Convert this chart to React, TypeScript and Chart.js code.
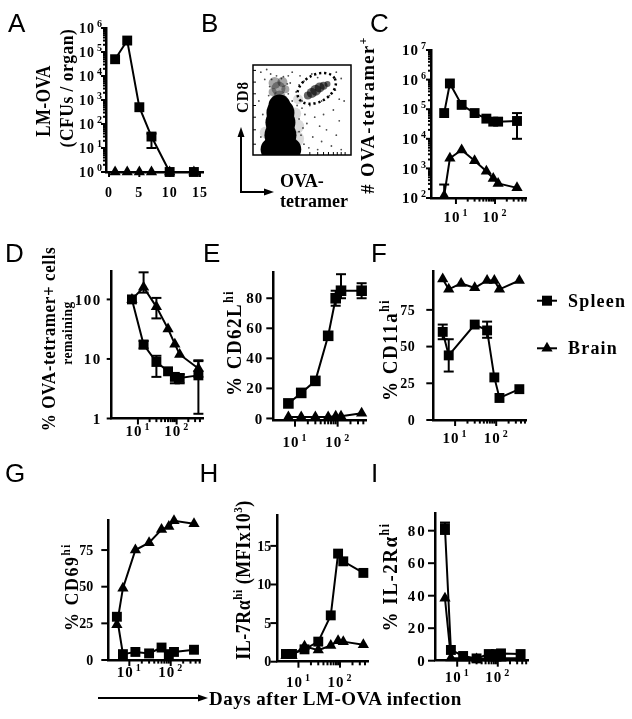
import React, { useEffect, useRef } from 'react';
import { Chart, registerables } from 'chart.js';

Chart.register(...registerables);

const SERIF = '"Liberation Serif", "Times New Roman", serif';
const SANS = '"Liberation Sans", Arial, sans-serif';

/* ================= DATA ================= */
// Panel A – bacterial load (linear days)
const daysA = [1, 3, 5, 7, 10, 14];
const spleenA = [50000, 300000, 500, 30, 1, 1];
const brainA = [1, 1, 1, 1, 1, 1];
const spleenAErr = [null, null, null, [10, 40], null, null];
const aXTicks = [0, 5, 10, 15];
const aXLabels = ['0', '5', '10', '15'];
const aYTicks = [1, 10, 100, 1000, 10000, 100000, 1000000];
const aYExp = ['0', '1', '2', '3', '4', '5', '6'];

// Days used in the time-course panels
const daysAll = [5, 7, 14, 30, 60, 90, 120, 365];
const daysFrom7 = [7, 14, 30, 60, 90, 120, 365];
const daysF = [5, 7, 30, 60, 90, 120, 365];
const logXTicks = [10, 100];
const logXExp = ['1', '2'];

// Panel C – # OVA-tetramer+
const spleenC = [74000, 740000, 140000, 74000, 48000, 38000, 38000, 40000];
const brainC = [120, 2200, 4200, 1800, 800, 460, 310, 220];
const spleenCErr = [null, null, null, null, null, null, null, [10000, 74000]];
const brainCErr = [[100, 285], null, null, null, null, null, null, null];
const cYTicks = [100, 1000, 10000, 100000, 1000000, 10000000];
const cYExp = ['2', '3', '4', '5', '6', '7'];

// Panel D – % remaining
const spleenD = [100, 17.5, 8.9, 6.2, 5.0, 4.8, 5.3];
const brainD = [100, 160, 75, 32, 17.7, 11.9, 6.9];
const spleenDErr = [null, [15, 20], [5, 11.3], null, [3.9, 5.5], [3.9, 5.5], [1.2, 9.2]];
const brainDErr = [null, [130, 285], [48, 106], null, null, null, [5, 9.5]];
const dYTicks = [1, 10, 100];
const dYLabels = ['1', '10', '100'];

// Panel E – % CD62L hi
const spleenE = [10, 17, 25, 55, 80, 85, 85];
const brainE = [1, 1, 1, 1, 1.5, 1.5, 3.5];
const spleenEErr = [null, null, null, null, [75, 85], [80, 96], [80, 90]];
const eYTicks = [0, 20, 40, 60, 80];

// Panel F – % CD11a hi
const spleenF = [60, 44, 65, 61, 29, 15, 21];
const brainF = [96, 89, 93, 90, 95, 95, 89, 95];
const spleenFErr = [[55, 65], [33, 55], null, [56, 67], null, null, null];
const fYTicks = [0, 25, 50, 75];

// Panel G – % CD69 hi
const spleenG = [29.5, 4, 5.5, 4.5, 8.5, 4, 5.5, 7];
const brainG = [24, 49, 75, 80, 89, 91, 95, 93];
const gYTicks = [0, 25, 50, 75];

// Panel H – IL-7Ra MFI (x10^3)
const spleenH = [1, 1, 1.6, 2.6, 6, 14, 13, 11.5];
const brainH = [0.8, 0.8, 2.0, 1.5, 2.1, 2.7, 2.6, 2.2];
const hYTicks = [0, 5, 10, 15];

// Panel I – % IL-2Ra hi
const spleenI = [81.5, 6.6, 2.9, 1.4, 4.1, 4.1, 4.5, 4.1];
const brainI = [38.4, 1.7, 1.5, 1, 1.5, 1.5, 1.5, 1.5];
const spleenIErr = [[78, 85], null, null, null, null, null, null, null];
const iYTicks = [0, 20, 40, 60, 80];

const legendLabels = ['Spleen', 'Brain'];

// Panel B – flow cytometry plot (arbitrary 0-100 units)
const bMainBlobs = [
  { x: 28, y: 8, r: 17 }, { x: 20, y: 6, r: 12 }, { x: 37, y: 6, r: 12 },
  { x: 28, y: 22, r: 16 }, { x: 28, y: 36, r: 15 }, { x: 28, y: 47, r: 14 }, { x: 27, y: 55, r: 11 },
];
const bHaloBlobs = [
  { x: 44, y: 18, r: 8 }, { x: 45, y: 32, r: 7 }, { x: 43, y: 46, r: 6 }, { x: 13, y: 25, r: 6 },
  { x: 46, y: 62, r: 5 },
];
const bCD8Blobs = [
  { x: 22, y: 80, r: 6 }, { x: 30, y: 81, r: 5 }, { x: 26, y: 74, r: 7 },
  { x: 33, y: 73, r: 4 }, { x: 20, y: 70, r: 4 }, { x: 27, y: 65, r: 6 },
];
const bTetBlobs = [
  { x: 56, y: 66, r: 4 }, { x: 60, y: 69, r: 5 }, { x: 64, y: 72, r: 5.5 },
  { x: 68, y: 75, r: 5 }, { x: 72, y: 77, r: 4 }, { x: 76, y: 79, r: 3 },
];
const bDots = [
  { x: 48, y: 5 }, { x: 52, y: 12 }, { x: 57, y: 8 }, { x: 61, y: 20 }, { x: 66, y: 6 },
  { x: 70, y: 15 }, { x: 75, y: 28 }, { x: 80, y: 10 }, { x: 85, y: 22 }, { x: 90, y: 6 },
  { x: 55, y: 35 }, { x: 63, y: 42 }, { x: 72, y: 45 }, { x: 82, y: 50 }, { x: 50, y: 52 },
  { x: 58, y: 55 }, { x: 88, y: 38 }, { x: 93, y: 60 }, { x: 47, y: 26 }, { x: 68, y: 32 },
  { x: 8, y: 92 }, { x: 14, y: 95 }, { x: 40, y: 92 }, { x: 48, y: 88 }, { x: 85, y: 92 },
  { x: 90, y: 85 }, { x: 6, y: 60 }, { x: 10, y: 45 }, { x: 8, y: 20 }, { x: 44, y: 70 },
  { x: 47, y: 78 }, { x: 84, y: 72 }, { x: 88, y: 62 }, { x: 52, y: 82 }, { x: 40, y: 60 },
  { x: 36, y: 88 }, { x: 60, y: 90 }, { x: 78, y: 66 }, { x: 70, y: 60 }, { x: 66, y: 86 },
  { x: 46, y: 12 }, { x: 49, y: 22 }, { x: 51, y: 30 }, { x: 47, y: 40 }, { x: 53, y: 45 },
  { x: 50, y: 60 }, { x: 45, y: 55 }, { x: 18, y: 90 }, { x: 12, y: 84 }, { x: 38, y: 80 },
  { x: 17, y: 76 }, { x: 19, y: 84 }, { x: 24, y: 88 }, { x: 31, y: 87 }, { x: 35, y: 79 },
  { x: 36, y: 68 }, { x: 16, y: 66 }, { x: 21, y: 62 }, { x: 33, y: 63 }, { x: 29, y: 85 },
];
const bGate = { x: 65, y: 74, a: 21, b: 15, rot: -0.5 };
const bTickX = [18, 42, 58, 66, 72, 77, 82, 86, 90, 94];
const bTickY = [12, 28, 42, 55, 68, 81, 94];

/* ================= TYPES / HELPERS ================= */
interface Lab { v: number; t: string; s?: string }
interface Ax {
  type: 'linear' | 'logarithmic'; min: number; max: number;
  majors: number[]; minors: number[]; labels: Lab[];
  fs: number; off: number; tick: number; ls: number;
}
interface Ser { x: number[]; y: number[]; err?: (number[] | null)[]; style: string; r: number }
interface Panel { area: number[]; box: number[]; x: Ax; y: Ax; series: Ser[]; legend?: boolean }

const lab = (vals: number[], texts: string[]): Lab[] => vals.map((v, i) => ({ v, t: texts[i] }));
const tenExp = (vals: number[], exps: string[]): Lab[] => vals.map((v, i) => ({ v, t: '10', s: exps[i] }));
function logMinors(min: number, max: number, from: number): number[] {
  const out: number[] = [];
  for (let d = from; d <= max; d *= 10) {
    for (let k = 2; k <= 9; k++) {
      const v = k * d;
      if (v >= min && v <= max) out.push(v);
    }
  }
  return out;
}
function logX(min: number, max: number, off: number): Ax {
  return {
    type: 'logarithmic', min, max, majors: logXTicks, minors: logMinors(min, max, 10),
    labels: tenExp(logXTicks, logXExp), fs: 15, off, tick: 6, ls: 1,
  };
}
function linY(min: number, max: number, ticks: number[], off: number, fs = 15, ls = 1): Ax {
  return { type: 'linear', min, max, majors: ticks, minors: [], labels: lab(ticks, ticks.map(String)), fs, off, tick: 7, ls };
}
function mkPanel(area: number[], x: Ax, y: Ax, series: Ser[], legend = false): Panel {
  const left = Math.floor(area[0] - 50);
  const top = Math.floor(area[1] - 16);
  const right = legend ? 632 : Math.ceil(area[2] + 18);
  const bottom = Math.ceil(area[3] + 36);
  return { area, box: [left, top, right - left, bottom - top], x, y, series, legend };
}

/* ================= PANELS ================= */
const panels: Panel[] = [
  mkPanel([106, 28, 203, 172],
    { type: 'linear', min: -0.5, max: 15.5, majors: aXTicks, minors: [], labels: lab(aXTicks, aXLabels), fs: 14, off: 25, tick: 5, ls: 1 },
    { type: 'logarithmic', min: 1, max: 1000000, majors: aYTicks, minors: logMinors(1, 1000000, 1), labels: tenExp(aYTicks, aYExp), fs: 14, off: 3, tick: 5, ls: 1 },
    [{ x: daysA, y: spleenA, err: spleenAErr, style: 'rect', r: 7 }, { x: daysA, y: brainA, style: 'triangle', r: 6.5 }]),
  mkPanel([431, 50, 526, 198],
    logX(2.3, 620, 24),
    { type: 'logarithmic', min: 100, max: 10000000, majors: cYTicks, minors: logMinors(100, 10000000, 100), labels: tenExp(cYTicks, cYExp), fs: 15, off: 4, tick: 5, ls: 1 },
    [{ x: daysAll, y: spleenC, err: spleenCErr, style: 'rect', r: 7 }, { x: daysAll, y: brainC, err: brainCErr, style: 'triangle', r: 6.5 }]),
  mkPanel([111.7, 271, 203, 418.5],
    logX(2.1, 480, 17.5),
    { type: 'logarithmic', min: 1, max: 300, majors: dYTicks, minors: [], labels: lab(dYTicks, dYLabels), fs: 15, off: 10, tick: 5, ls: 1.5 },
    [{ x: daysFrom7, y: spleenD, err: spleenDErr, style: 'rect', r: 7 }, { x: daysFrom7, y: brainD, err: brainDErr, style: 'triangle', r: 6.5 }]),
  mkPanel([273.3, 272.7, 366.7, 420.7],
    logX(3.1, 480, 26),
    linY(-1.5, 97, eYTicks, 10),
    [{ x: daysFrom7, y: spleenE, err: spleenEErr, style: 'rect', r: 7.5 }, { x: daysFrom7, y: brainE, style: 'triangle', r: 6.5 }]),
  mkPanel([433.3, 271.7, 526, 420],
    logX(2.95, 530, 23),
    linY(0, 101, fYTicks, 18, 14, 0.5),
    [{ x: daysF, y: spleenF, err: spleenFErr, style: 'rect', r: 7 }, { x: daysAll, y: brainF, style: 'triangle', r: 6.5 }], true),
  mkPanel([108.3, 520, 200, 660],
    logX(3.1, 510, 17),
    linY(0, 95.5, gYTicks, 15, 14, 0),
    [{ x: daysAll, y: spleenG, style: 'rect', r: 7 }, { x: daysAll, y: brainG, style: 'triangle', r: 6.5 }]),
  mkPanel([277.3, 515, 368.3, 661.7],
    logX(3.1, 480, 25),
    linY(0, 19, hYTicks, 6, 14, 0),
    [{ x: daysAll, y: spleenH, style: 'rect', r: 7 }, { x: daysAll, y: brainH, style: 'triangle', r: 6.5 }]),
  mkPanel([435, 513.3, 528, 660.7],
    logX(2.84, 555, 21),
    linY(0, 90.7, iYTicks, 8.3, 15, 2),
    [{ x: daysAll, y: spleenI, err: spleenIErr, style: 'rect', r: 7 }, { x: daysAll, y: brainI, style: 'triangle', r: 6.5 }]),
];

/* ================= DRAWING ================= */
function drawLabel(ctx: CanvasRenderingContext2D, l: Lab, x: number, y: number, align: 'right' | 'center', fs: number, ls: number) {
  const sfs = Math.round(fs * 0.68);
  (ctx as any).letterSpacing = ls + 'px';
  ctx.font = `bold ${fs}px ${SERIF}`;
  const wb = ctx.measureText(l.t).width;
  let ws = 0;
  if (l.s) {
    ctx.font = `bold ${sfs}px ${SERIF}`;
    ws = ctx.measureText(l.s).width + 2;
  }
  const total = wb + ws;
  const x0 = align === 'right' ? x - total : x - total / 2;
  ctx.textAlign = 'left';
  ctx.textBaseline = 'alphabetic';
  ctx.font = `bold ${fs}px ${SERIF}`;
  ctx.fillText(l.t, x0, y);
  if (l.s) {
    ctx.font = `bold ${sfs}px ${SERIF}`;
    ctx.fillText(l.s, x0 + wb + 2, y - fs * 0.4);
  }
  (ctx as any).letterSpacing = '0px';
}

function line(ctx: CanvasRenderingContext2D, x1: number, y1: number, x2: number, y2: number) {
  ctx.beginPath();
  ctx.moveTo(x1, y1);
  ctx.lineTo(x2, y2);
  ctx.stroke();
}

function drawErrors(chart: any, p: Panel) {
  const ctx: CanvasRenderingContext2D = chart.ctx;
  const xs = chart.scales.x, ys = chart.scales.y;
  ctx.save();
  ctx.strokeStyle = '#000';
  ctx.lineWidth = 2;
  p.series.forEach((s) => {
    if (!s.err) return;
    s.err.forEach((e, i) => {
      if (!e) return;
      const px = xs.getPixelForValue(s.x[i]);
      const y1 = ys.getPixelForValue(e[0]);
      const y2 = ys.getPixelForValue(e[1]);
      line(ctx, px, y1, px, y2);
      line(ctx, px - 5, y1, px + 5, y1);
      line(ctx, px - 5, y2, px + 5, y2);
    });
  });
  ctx.restore();
}

function drawAxes(chart: any, p: Panel) {
  const ctx: CanvasRenderingContext2D = chart.ctx;
  const ca = chart.chartArea;
  const xs = chart.scales.x, ys = chart.scales.y;
  ctx.save();
  ctx.strokeStyle = '#000';
  ctx.fillStyle = '#000';
  ctx.lineWidth = 2;
  const inX = (v: number) => v >= p.x.min && v <= p.x.max;
  const inY = (v: number) => v >= p.y.min && v <= p.y.max;
  p.x.majors.filter(inX).forEach((v) => { const px = xs.getPixelForValue(v); line(ctx, px, ca.bottom, px, ca.bottom + p.x.tick); });
  p.x.minors.filter(inX).forEach((v) => { const px = xs.getPixelForValue(v); line(ctx, px, ca.bottom, px, ca.bottom + p.x.tick * 0.6); });
  p.y.majors.filter(inY).forEach((v) => { const py = ys.getPixelForValue(v); line(ctx, ca.left, py, ca.left - p.y.tick, py); });
  p.y.minors.filter(inY).forEach((v) => { const py = ys.getPixelForValue(v); line(ctx, ca.left, py, ca.left - p.y.tick * 0.6, py); });
  p.x.labels.forEach((l) => drawLabel(ctx, l, xs.getPixelForValue(l.v), ca.bottom + p.x.off, 'center', p.x.fs, p.x.ls));
  p.y.labels.forEach((l) => drawLabel(ctx, l, ca.left - p.y.off, ys.getPixelForValue(l.v) + p.y.fs * 0.34, 'right', p.y.fs, p.y.ls));

  if (p.legend) {
    const ox = p.box[0], oy = p.box[1];
    const rows = [300.7, 348.3];
    legendLabels.forEach((txt, i) => {
      const cy = rows[i] - oy;
      const mx = 547 - ox;
      ctx.lineWidth = 2;
      line(ctx, 537 - ox, cy, 557 - ox, cy);
      ctx.beginPath();
      if (i === 0) {
        ctx.rect(mx - 5, cy - 5, 10, 10);
      } else {
        ctx.moveTo(mx, cy - 6.5);
        ctx.lineTo(mx + 5.6, cy + 3.3);
        ctx.lineTo(mx - 5.6, cy + 3.3);
        ctx.closePath();
      }
      ctx.fill();
      (ctx as any).letterSpacing = '1.2px';
      ctx.font = `bold 18px ${SERIF}`;
      ctx.textAlign = 'left';
      ctx.textBaseline = 'alphabetic';
      ctx.fillText(txt, 568 - ox, cy + 6);
      (ctx as any).letterSpacing = '0px';
    });
  }
  ctx.restore();
}

function axisOpts(a: Ax, which: 'x' | 'y') {
  return {
    type: a.type, min: a.min, max: a.max, display: true,
    grid: { display: false, drawTicks: false },
    ticks: { display: false },
    border: { display: true, color: '#000', width: 2.5 },
    afterFit: (s: any) => { if (which === 'x') s.height = 0; else s.width = 0; },
  };
}

function buildConfig(p: Panel): any {
  const [bl, bt, bw, bh] = p.box;
  const [al, at, ar, ab] = p.area;
  return {
    type: 'scatter',
    data: {
      datasets: p.series.map((s) => ({
        data: s.x.map((x, i) => ({ x, y: s.y[i] })),
        showLine: true,
        borderColor: '#000',
        borderWidth: 2,
        backgroundColor: '#000',
        pointStyle: s.style,
        pointRadius: s.r,
        pointHoverRadius: s.r,
        pointBackgroundColor: '#000',
        pointBorderColor: '#000',
        pointBorderWidth: 0,
        tension: 0,
        clip: false,
      })),
    },
    options: {
      responsive: false,
      animation: false,
      devicePixelRatio: 1,
      events: [],
      layout: { padding: { left: al - bl, top: at - bt, right: bl + bw - ar, bottom: bt + bh - ab } },
      plugins: { legend: { display: false }, tooltip: { enabled: false }, title: { display: false } },
      scales: { x: axisOpts(p.x, 'x'), y: axisOpts(p.y, 'y') },
    },
    plugins: [{
      id: 'deco',
      beforeDatasetsDraw: (c: any) => drawErrors(c, p),
      afterDraw: (c: any) => drawAxes(c, p),
    }],
  };
}

/* ---- Panel B (flow plot) ---- */
const bArea = [252, 61, 353, 157];
const bBox = [236, 48, 132, 124];

function buildFlowConfig(): any {
  const [bl, bt, bw, bh] = bBox;
  const [al, at, ar, ab] = bArea;
  const bub = (data: any[], color: string) => ({
    data, backgroundColor: color, borderWidth: 0, hoverRadius: 0, clip: 0,
  });
  return {
    type: 'bubble',
    data: {
      datasets: [
        bub(bMainBlobs, '#000'),
        bub(bTetBlobs, 'rgba(0,0,0,0.6)'),
        bub(bCD8Blobs, 'rgba(0,0,0,0.35)'),
        bub(bHaloBlobs, 'rgba(0,0,0,0.14)'),
        bub(bDots.map((d) => ({ x: d.x, y: d.y, r: 0.9 })), 'rgba(0,0,0,0.7)'),
      ],
    },
    options: {
      responsive: false,
      animation: false,
      devicePixelRatio: 1,
      events: [],
      layout: { padding: { left: al - bl, top: at - bt, right: bl + bw - ar, bottom: bt + bh - ab } },
      plugins: { legend: { display: false }, tooltip: { enabled: false } },
      scales: {
        x: { type: 'linear', min: 0, max: 100, display: false },
        y: { type: 'linear', min: 0, max: 100, display: false },
      },
    },
    plugins: [{
      id: 'flowDeco',
      afterDraw: (chart: any) => {
        const ctx: CanvasRenderingContext2D = chart.ctx;
        const ca = chart.chartArea;
        const xs = chart.scales.x, ys = chart.scales.y;
        ctx.save();
        ctx.strokeStyle = '#000';
        ctx.lineWidth = 1.5;
        ctx.strokeRect(ca.left, ca.top, ca.right - ca.left, ca.bottom - ca.top);
        ctx.lineWidth = 1;
        bTickX.forEach((v) => { const px = xs.getPixelForValue(v); line(ctx, px, ca.bottom, px, ca.bottom - 3); });
        bTickY.forEach((v) => { const py = ys.getPixelForValue(v); line(ctx, ca.left, py, ca.left + 3, py); });
        const cx = xs.getPixelForValue(bGate.x);
        const cy = ys.getPixelForValue(bGate.y);
        const rx = Math.abs(xs.getPixelForValue(bGate.x + bGate.a) - cx);
        const ry = Math.abs(ys.getPixelForValue(bGate.y + bGate.b) - cy);
        ctx.setLineDash([2.2, 2.8]);
        ctx.lineWidth = 2.5;
        ctx.beginPath();
        ctx.ellipse(cx, cy, rx, ry, bGate.rot, 0, Math.PI * 2);
        ctx.stroke();
        ctx.restore();
      },
    }],
  };
}

/* ================= COMPONENTS ================= */
function ChartCanvas({ box, make }: { box: number[]; make: () => any }) {
  const ref = useRef<HTMLCanvasElement>(null);
  useEffect(() => {
    const chart = new Chart(ref.current as HTMLCanvasElement, make());
    return () => { chart.destroy(); };
  }, []);
  const [l, t, w, h] = box;
  return (
    <canvas ref={ref} width={w} height={h}
      style={{ position: 'absolute', left: l, top: t, width: w, height: h, display: 'block' }} />
  );
}

function RotText({ cx, cy, fs, ls = 1, sy = 1.15, children }: { cx: number; cy: number; fs: number; ls?: number; sy?: number; children: any }) {
  return (
    <div style={{
      position: 'absolute', left: cx, top: cy, whiteSpace: 'nowrap',
      transform: `translate(-50%, -50%) rotate(-90deg) scaleY(${sy})`,
      font: `bold ${fs}px ${SERIF}`, letterSpacing: ls, lineHeight: 1, color: '#000',
    }}>{children}</div>
  );
}

const Sup = ({ children }: { children: any }) => (
  <span style={{ fontSize: '0.62em', verticalAlign: '0.6em', lineHeight: 0 }}>{children}</span>
);

function Letter({ x, y, ch }: { x: number; y: number; ch: string }) {
  return (
    <div style={{ position: 'absolute', left: x, top: y, font: `26px ${SANS}`, lineHeight: '26px', color: '#000' }}>{ch}</div>
  );
}

export default function App() {
  return (
    <div style={{ position: 'absolute', left: 0, top: 0, width: 632, height: 719, background: '#fff', overflow: 'hidden' }}>
      {panels.map((p, i) => (
        <ChartCanvas key={i} box={p.box} make={() => buildConfig(p)} />
      ))}
      <ChartCanvas box={bBox} make={buildFlowConfig} />

      <svg width={632} height={719} style={{ position: 'absolute', left: 0, top: 0, pointerEvents: 'none' }}>
        <line x1={241} y1={192} x2={241} y2={135} stroke="#000" strokeWidth={2} />
        <polygon points="241,127 237.5,137 244.5,137" fill="#000" />
        <line x1={240} y1={192} x2={266} y2={192} stroke="#000" strokeWidth={2} />
        <polygon points="274,192 264,188.5 264,195.5" fill="#000" />
        <line x1={98} y1={698} x2={200} y2={698} stroke="#000" strokeWidth={2} />
        <polygon points="208,698 198,694.5 198,701.5" fill="#000" />
      </svg>

      <Letter x={8} y={10} ch="A" />
      <Letter x={201} y={10} ch="B" />
      <Letter x={370} y={10} ch="C" />
      <Letter x={5} y={240} ch="D" />
      <Letter x={203} y={240} ch="E" />
      <Letter x={371} y={240} ch="F" />
      <Letter x={5} y={460} ch="G" />
      <Letter x={199.5} y={460} ch="H" />
      <Letter x={371} y={460} ch="I" />

      <RotText cx={42.5} cy={101} fs={17} ls={0.5} sy={1.25}>LM-OVA</RotText>
      <RotText cx={66.5} cy={88} fs={17.5} ls={0.5} sy={1.1}>(CFUs / organ)</RotText>
      <RotText cx={243} cy={97} fs={15} ls={1} sy={1.1}>CD8</RotText>
      <RotText cx={368} cy={115} fs={18.5} ls={1.5} sy={1}># OVA-tetramer<Sup>+</Sup></RotText>
      <RotText cx={49} cy={339} fs={17} ls={0.6} sy={1.05}>% OVA-tetramer+ cells</RotText>
      <RotText cx={68} cy={333} fs={13.5} ls={0.5} sy={1.05}>remaining</RotText>
      <RotText cx={234} cy={343} fs={19} ls={1.5}>% CD62L<Sup>hi</Sup></RotText>
      <RotText cx={390} cy={350} fs={19} ls={1.5}>% CD11a<Sup>hi</Sup></RotText>
      <RotText cx={70.5} cy={587} fs={18} ls={1.5} sy={1.1}>% CD69<Sup>hi</Sup></RotText>
      <RotText cx={243} cy={580} fs={18} ls={0.5}>IL-7Rα<Sup>hi</Sup> (MFIx10<Sup>3</Sup>)</RotText>
      <RotText cx={390} cy={577} fs={19} ls={1.5}>% IL-2Rα<Sup>hi</Sup></RotText>

      <div style={{ position: 'absolute', left: 280, top: 171.6, font: `bold 18px ${SERIF}`, lineHeight: 1 }}>OVA-</div>
      <div style={{ position: 'absolute', left: 280, top: 191.6, font: `bold 18px ${SERIF}`, lineHeight: 1 }}>tetramer</div>
      <div style={{ position: 'absolute', left: 209, top: 689, font: `bold 19px ${SERIF}`, lineHeight: 1, letterSpacing: 0.5, whiteSpace: 'nowrap' }}>Days after LM-OVA infection</div>
    </div>
  );
}
